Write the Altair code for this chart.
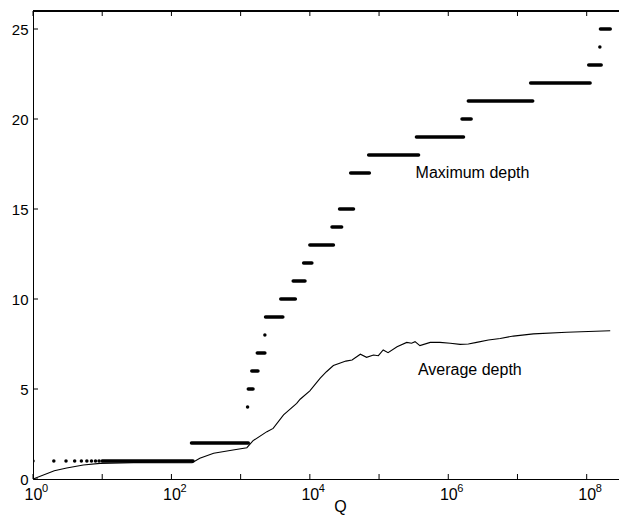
import altair as alt
import pandas as pd

# ---- data ----
# Maximum depth: horizontal runs (level, Q start, Q end); start == end is a single dot
max_level = [1, 1, 1, 1, 1, 1, 1, 1, 1, 1,
             2, 4, 5, 6, 7, 8, 9, 10, 11, 12,
             13, 14, 15, 17, 18, 19, 20, 21, 22, 23, 24, 25]
max_q_start = [1, 2, 3, 4, 5, 6, 7, 8, 9, 10,
               195, 1260, 1290, 1450, 1740, 2240, 2290, 3800, 5750, 8130,
               10000, 20900, 26900, 38900, 70800, 3.47e5, 1.58e6, 1.95e6, 1.55e7, 1.07e8, 1.55e8, 1.58e8]
max_q_end = [1, 2, 3, 4, 5, 6, 7, 8, 9, 205,
             1290, 1260, 1510, 1780, 2240, 2240, 4070, 6170, 8510, 10700,
             21900, 28800, 42700, 72400, 3.72e5, 1.66e6, 2.14e6, 1.66e7, 1.12e8, 1.62e8, 1.55e8, 2.19e8]

# Average depth curve (log10 Q, depth)
avg_log10q = [0.0, 0.308, 0.487, 0.727, 0.968, 1.45, 2.30, 2.41, 2.61, 2.89, 3.09, 3.18,
              3.38, 3.47, 3.62, 3.81, 3.86, 4.00, 4.15, 4.24, 4.34, 4.44, 4.52, 4.61,
              4.73, 4.82, 4.92, 4.99, 5.06, 5.13, 5.26, 5.40, 5.47, 5.52, 5.59, 5.74,
              5.88, 6.03, 6.17, 6.29, 6.41, 6.58, 6.75, 6.94, 7.23, 7.71, 8.34]
avg_depth = [0.0, 0.46, 0.61, 0.78, 0.87, 0.91, 0.90, 1.15, 1.43, 1.61, 1.74, 2.13,
             2.63, 2.81, 3.56, 4.20, 4.43, 4.90, 5.60, 5.96, 6.30, 6.45, 6.55, 6.61,
             6.93, 6.76, 6.89, 6.85, 7.17, 7.02, 7.35, 7.59, 7.54, 7.63, 7.41, 7.59,
             7.59, 7.54, 7.48, 7.50, 7.59, 7.72, 7.81, 7.94, 8.06, 8.15, 8.24]

x_tick_q = [1, 1e1, 1e2, 1e3, 1e4, 1e5, 1e6, 1e7, 1e8]
x_label_q = [1, 1e2, 1e4, 1e6, 1e8]
x_label_exp = ["0", "2", "4", "6", "8"]
y_ticks = [0, 5, 10, 15, 20, 25]

labels_text = ["Maximum depth", "Average depth"]
labels_q = [2.24e6, 2.05e6]
labels_y = [17.0, 6.06]

# ---- tables ----
seg_df = pd.DataFrame({"level": max_level, "q0": max_q_start, "q1": max_q_end})
avg_df = pd.DataFrame({"q": [10 ** v for v in avg_log10q], "depth": avg_depth})
xt_df = pd.DataFrame({"q": x_tick_q})
xl_df = pd.DataFrame({"q": x_label_q, "exp": x_label_exp})
yt_df = pd.DataFrame({"y": y_ticks})
lab_df = pd.DataFrame({"text": labels_text, "q": labels_q, "y": labels_y})

W, H = 586, 468
FONT = "Liberation Sans"

xscale = alt.Scale(type="log", domain=[1, 2.93e8], nice=False)
yscale = alt.Scale(domain=[0, 26], nice=False, zero=False)

xaxis = alt.Axis(values=x_label_q, labelExpr="'10'",
                 tickSize=0, grid=False, domainColor="black", domainWidth=1,
                 labelFont=FONT, labelFontSize=16, labelColor="black", labelPadding=7,
                 labelFlush=False, labelOverlap=False,
                 title="Q", titleFont=FONT, titleFontSize=16, titleFontWeight="normal",
                 titleColor="black", titleX=307, titlePadding=-4)
yaxis = alt.Axis(values=y_ticks, tickSize=0, grid=False, domainColor="black", domainWidth=1,
                 labelFont=FONT, labelFontSize=15, labelColor="black", labelPadding=5,
                 labelFlush=False, labelOverlap=False, title=None)

avg = alt.Chart(avg_df).mark_line(color="black", strokeWidth=1.1, clip=True).encode(
    x=alt.X("q:Q", scale=xscale, axis=xaxis),
    y=alt.Y("depth:Q", scale=yscale, axis=yaxis),
)

segs = alt.Chart(seg_df).mark_rule(color="black", strokeWidth=3.5, strokeCap="round", clip=True).encode(
    x=alt.X("q0:Q", scale=xscale),
    x2="q1:Q",
    y=alt.Y("level:Q", scale=yscale),
)

bottom_ticks = alt.Chart(xt_df).mark_rule(color="black", strokeWidth=1).encode(
    x=alt.X("q:Q", scale=xscale), y=alt.value(H), y2=alt.value(H - 5))
top_ticks = alt.Chart(xt_df).mark_rule(color="black", strokeWidth=1).encode(
    x=alt.X("q:Q", scale=xscale), y=alt.value(0), y2=alt.value(5))
left_ticks = alt.Chart(yt_df).mark_rule(color="black", strokeWidth=1).encode(
    y=alt.Y("y:Q", scale=yscale), x=alt.value(0), x2=alt.value(5))
top_line = alt.Chart(yt_df).mark_rule(color="black", strokeWidth=1).encode(
    x=alt.value(0), x2=alt.value(W), y=alt.value(0))

exps = alt.Chart(xl_df).mark_text(font=FONT, fontSize=11, color="black", align="left",
                                  baseline="alphabetic", dx=9).encode(
    x=alt.X("q:Q", scale=xscale), y=alt.value(H + 13), text="exp:N")

texts = alt.Chart(lab_df).mark_text(font=FONT, fontSize=16, color="black",
                                    align="center", baseline="middle").encode(
    x=alt.X("q:Q", scale=xscale), y=alt.Y("y:Q", scale=yscale), text="text:N")

chart = alt.layer(avg, segs, bottom_ticks, top_ticks, left_ticks, top_line, exps, texts).properties(
    width=W, height=H,
    autosize=alt.AutoSizeParams(type="none"),
    padding={"left": 25, "top": 3, "right": 0, "bottom": 38},
).configure_view(stroke=None).configure(background="white")

chart.save("out.html", embed_options={"renderer": "svg", "actions": False})
